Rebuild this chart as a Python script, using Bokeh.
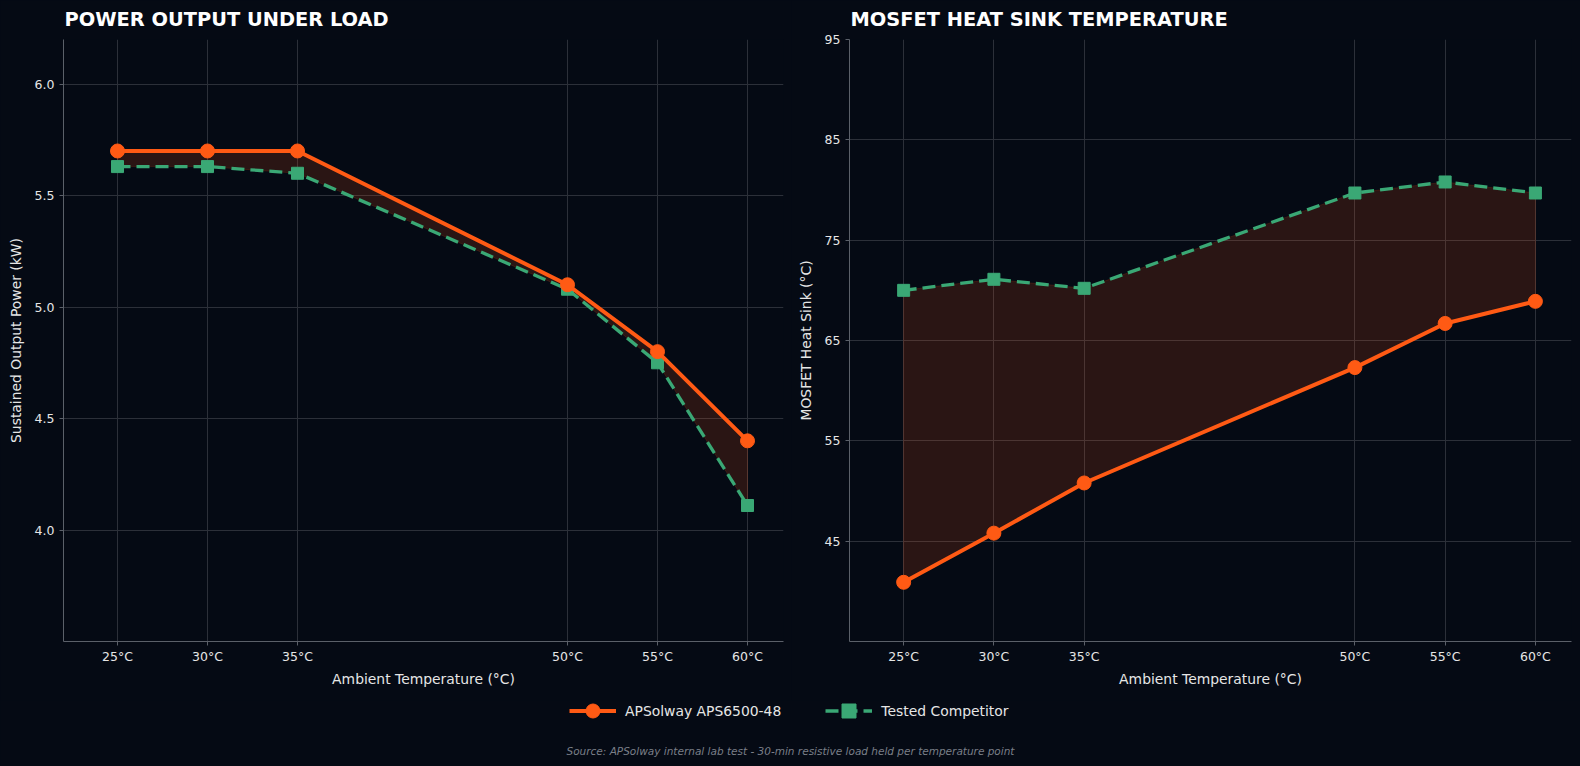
from bokeh.plotting import figure
from bokeh.models import (Range1d, FixedTicker, PrintfTickFormatter, Legend,
                          LegendItem, Label)
from bokeh.layouts import column, row
from bokeh.embed import file_html
from bokeh.resources import INLINE

# ---------------- data ----------------
temps = [25, 30, 35, 50, 55, 60]
temp_labels = ["25°C", "30°C", "35°C", "50°C", "55°C", "60°C"]

aps_power = [5.70, 5.70, 5.70, 5.10, 4.80, 4.40]
comp_power = [5.63, 5.63, 5.60, 5.08, 4.75, 4.11]

aps_mosfet = [40.9, 45.8, 50.8, 62.3, 66.7, 68.9]
comp_mosfet = [70.0, 71.1, 70.2, 79.7, 80.8, 79.7]

power_ticks = [4.0, 4.5, 5.0, 5.5, 6.0]
mosfet_ticks = [45, 55, 65, 75, 85, 95]

series_names = ["APSolway APS6500-48", "Tested Competitor"]
titles = ["POWER OUTPUT UNDER LOAD", "MOSFET HEAT SINK TEMPERATURE"]
y_labels = ["Sustained Output Power (kW)", "MOSFET Heat Sink (°C)"]
x_label = "Ambient Temperature (°C)"
source_note = ("Source: APSolway internal lab test - 30-min resistive load "
               "held per temperature point")

# ---------------- style ----------------
BG = "#050a14"
ORANGE = "#ff5a14"
GREEN = "#3aa875"
GRID = "#2c3039"
AXIS = "#5b6069"
TXT = "#e6e6e6"
FONT = "DejaVu Sans"


def make_panel(title, ylabel, y_aps, y_comp, yr, yticks, yfmt,
               width, mbl, mbr):
    p = figure(width=width, height=700,
               x_range=Range1d(22, 62), y_range=Range1d(*yr),
               output_backend="svg", toolbar_location=None,
               min_border_left=mbl, min_border_right=mbr,
               min_border_top=39, min_border_bottom=59,
               background_fill_color=BG, border_fill_color=BG,
               outline_line_color=None)

    p.title.text = title
    p.title.text_font = FONT
    p.title.text_font_size = "19.4px"
    p.title.text_font_style = "bold"
    p.title.text_color = "#ffffff"
    p.title.align = "left"
    p.title.vertical_align = "top"
    p.title.standoff = 14
    p.title.offset = 1

    # axes
    p.xaxis.ticker = FixedTicker(ticks=temps)
    p.xaxis.major_label_overrides = {t: l for t, l in zip(temps, temp_labels)}
    p.yaxis.ticker = FixedTicker(ticks=yticks)
    if yfmt:
        p.yaxis.formatter = PrintfTickFormatter(format=yfmt)
    p.xaxis.axis_label = x_label
    p.yaxis.axis_label = ylabel
    for ax in (p.xaxis, p.yaxis):
        ax.axis_line_color = AXIS
        ax.major_tick_line_color = AXIS
        ax.minor_tick_line_color = None
        ax.major_tick_in = 0
        ax.major_tick_out = 4
        ax.major_label_text_color = TXT
        ax.major_label_text_font = FONT
        ax.major_label_text_font_size = "12.5px"
        ax.axis_label_text_color = TXT
        ax.axis_label_text_font = FONT
        ax.axis_label_text_font_size = "13.9px"
        ax.axis_label_text_font_style = "normal"
    p.xaxis.major_label_standoff = 3
    p.xaxis.axis_label_standoff = 4
    p.yaxis.major_label_standoff = 5
    p.yaxis.axis_label_standoff = 8

    p.grid.grid_line_color = GRID
    p.grid.grid_line_width = 1

    # fill between
    xs = temps + temps[::-1]
    ys = list(y_aps) + list(y_comp)[::-1]
    p.patch(xs, ys, fill_color=ORANGE, fill_alpha=0.15,
            line_color=ORANGE, line_alpha=0.15, line_width=1)

    # competitor
    p.line(temps, y_comp, line_color=GREEN, line_width=3.3, line_dash="13 6")
    p.scatter(temps, y_comp, marker="square", size=12,
              fill_color=GREEN, line_color=GREEN)
    # APSolway
    p.line(temps, y_aps, line_color=ORANGE, line_width=4)
    p.scatter(temps, y_aps, marker="circle", size=14,
              fill_color=ORANGE, line_color=ORANGE)
    return p


p1 = make_panel(titles[0], y_labels[0], aps_power, comp_power, (3.5, 6.2),
                power_ticks, "%.1f", 791, 63, 8)
p2 = make_panel(titles[1], y_labels[1], aps_mosfet, comp_mosfet, (35, 95),
                mosfet_ticks, None, 789, 58, 9)

# ---------------- legend strip ----------------
# the strip's x range (0..1) lies far away from the data, so the series below
# only feed the legend glyphs and are not visible themselves.
lg = figure(width=1580, height=66, x_range=Range1d(0, 1), y_range=Range1d(0, 1),
            output_backend="svg", toolbar_location=None,
            x_axis_location=None, y_axis_location=None,
            min_border_left=0, min_border_right=0,
            min_border_top=0, min_border_bottom=0,
            background_fill_color=BG, border_fill_color=BG,
            outline_line_color=None)
lg.grid.visible = False

ra_l = lg.line(x=temps, y=aps_power, line_color=ORANGE, line_width=4)
ra_m = lg.scatter(x=temps, y=aps_power, marker="circle", size=14,
                  fill_color=ORANGE, line_color=ORANGE)
rc_l = lg.line(x=temps, y=comp_power, line_color=GREEN, line_width=3.3,
               line_dash="13 6")
rc_m = lg.scatter(x=temps, y=comp_power, marker="square", size=12,
                  fill_color=GREEN, line_color=GREEN)

legend = Legend(items=[LegendItem(label=series_names[0], renderers=[ra_l, ra_m]),
                       LegendItem(label=series_names[1], renderers=[rc_l, rc_m])],
                location=(569, 38), orientation="horizontal",
                glyph_width=47, glyph_height=35, label_height=17,
                label_standoff=9, spacing=44, padding=0, margin=0,
                background_fill_alpha=0, border_line_color=None,
                label_text_color=TXT, label_text_font=FONT,
                label_text_font_size="13.9px")
lg.add_layout(legend)

lg.add_layout(Label(x=790, y=16, x_units="screen", y_units="screen",
                    text=source_note, text_align="center",
                    text_baseline="middle", text_font=FONT,
                    text_font_size="10.5px", text_font_style="italic",
                    text_color="#7a7f88"))

p = column(row(p1, p2), lg)

TEMPLATE = """{% block postamble %}<style>html, body { background-color: #050a14; }</style>{% endblock %}
"""

open("out.html", "w").write(file_html(p, INLINE, template=TEMPLATE))
